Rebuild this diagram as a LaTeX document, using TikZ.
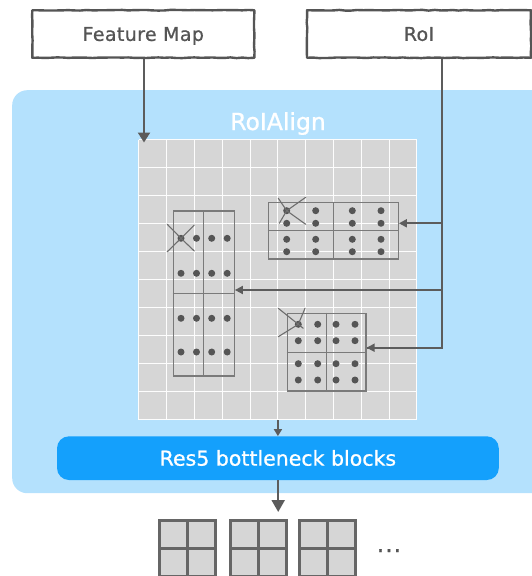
\documentclass[tikz,border=0pt]{standalone}
\usepackage{fontspec}
\setmainfont{DejaVu Sans}[FakeBold=0.9]
\usetikzlibrary{arrows.meta,decorations.pathmorphing,calc}
\definecolor{panelblue}{HTML}{B4E1FD}
\definecolor{resblue}{HTML}{14A0FC}
\definecolor{cellgray}{HTML}{D6D6D6}
\definecolor{ink}{HTML}{555555}
\definecolor{wire}{HTML}{5C5C5C}
\definecolor{frame}{HTML}{7A7A7A}
\definecolor{outgray}{HTML}{666666}

\begin{document}
\begin{tikzpicture}[x=1pt,y=-1pt,
  sketchbox/.style={draw=ink, line width=2.4pt, line join=round,
    decorate, decoration={random steps,segment length=6pt,amplitude=0.35pt},
    minimum height=47.5pt, inner sep=0pt, text height=13.8pt, text depth=0pt,
    text=ink, font=\fontsize{19}{19}\selectfont\addfontfeature{LetterSpace=2}},
  roibox/.style={draw=frame, line width=1.2pt, inner sep=0pt},
  divider/.style={draw=frame, line width=1.2pt},
  cross/.style={draw=frame!90!black, line width=1.1pt, line cap=round},
  gridline/.style={draw=white!96!cellgray, line width=0.9pt},
  flow/.style={draw=wire, line width=2.2pt},
  thin flow/.style={draw=wire, line width=1.8pt},
  outgrid/.style={draw=outgray, fill=cellgray, line width=3pt,
    minimum size=56pt, inner sep=0pt},
  outline/.style={draw=outgray, line width=3pt}
]
\useasboundingbox (0,0) rectangle (532,576);
\clip (0,0) rectangle (532,576);

% inputs
\pgfmathsetseed{7}
\node[sketchbox, minimum width=222pt] (fm) at (143.3,34) {Feature Map};
\node[sketchbox, minimum width=224pt] (roi) at (419,34) {RoI};

% RoIAlign stage
\node[fill=panelblue, rounded corners=15pt, minimum width=560pt,
  minimum height=403pt, anchor=north west, inner sep=0pt] (panel) at (12,90) {};
\node[text=white, anchor=base, font=\fontsize{23.5}{23.5}\selectfont] (title)
  at (278,130) {RoIAlign};

% feature map grid
\node[fill=cellgray, minimum width=278pt, minimum height=280pt, inner sep=0pt]
  (grid) at (278,280) {};
\foreach \i in {0,...,10} {
  \draw[gridline] ($(grid.north west)+(\i*27.8,0)$) -- ($(grid.south west)+(\i*27.8,0)$);
  \draw[gridline] ($(grid.north west)+(0,\i*28)$) -- ($(grid.north east)+(0,\i*28)$);
}

% region boxes with their bins
\node[roibox, minimum width=130pt, minimum height=56.7pt] (b1) at (333.3,230.65) {};
\node[roibox, minimum width=61pt, minimum height=165pt] (b2) at (203.8,293.5) {};
\node[roibox, minimum width=78.7pt, minimum height=77.7pt] (b3) at (326.65,352.15) {};
\foreach \b in {b1,b2,b3} {
  \draw[divider] (\b.north) -- (\b.south);
  \draw[divider] (\b.west) -- (\b.east);
}

% sampling points
\foreach \x in {286.7,315.7,352.3,381}
  \foreach \y in {210.7,223.3,239.3,251.7}
    \fill[ink] (\x,\y) circle (3.5pt);
\foreach \x in {181,196.5,211.7,227.2}
  \foreach \y in {238.3,273.3,318.3,352}
    \fill[ink] (\x,\y) circle (3.5pt);
\foreach \x in {298.3,317.7,336,355}
  \foreach \y in {324.3,340.7,363.7,380}
    \fill[ink] (\x,\y) circle (3.5pt);

% struck-out corner samples
\draw[cross] (278.3,198.3) -- (286.7,210.7) -- (305.7,224.3)
             (279.3,223.3) -- (286.7,210.7) -- (305.7,197.3);
\draw[cross] (167.3,224.3) -- (181,238.3) -- (194.3,251)
             (167.3,251.7) -- (181,238.3) -- (194.3,225);
\draw[cross] (278.3,308.3) -- (298.3,324.3) -- (303.3,328.3)
             (278.3,336.7) -- (298.3,324.3) -- (305,308.3);

% bottleneck
\node[fill=resblue, rounded corners=12pt, minimum width=441.8pt,
  minimum height=43.7pt, inner sep=0pt, text=white, text height=15pt, text depth=0pt,
  font=\fontsize{20.5}{20.5}\selectfont] (res5) at (277.9,458.15) {Res5 bottleneck blocks};

% pooled outputs
\node[outgrid] (o1) at (187.8,548.8) {};
\node[outgrid] (o2) at (258.7,548.8) {};
\node[outgrid] (o3) at (327.8,548.8) {};
\foreach \o in {o1,o2,o3} {
  \draw[outline] (\o.north) -- (\o.south);
  \draw[outline] (\o.west) -- (\o.east);
}
\node[text=ink, anchor=base, font=\fontsize{23}{23}\selectfont\addfontfeature{LetterSpace=5}]
  (more) at (389,552) {...};

% connectors
\coordinate (j1) at (441.7,223.3);
\coordinate (j2) at (441.7,290);
\coordinate (j3) at (441.7,347.7);
\coordinate (fmtip) at (144,142.5);
\coordinate (restip) at (278.2,512);

\draw[flow, -{Triangle[length=10pt,width=12pt]}] (fm.south -| fmtip) -- (fmtip);
\draw[thin flow, line join=miter] (roi.south -| j3) -- (j3) -- (j3 -| b3.east);
\draw[thin flow, -{Triangle[length=8pt,width=8pt]}] (j3) -- (j3 -| b3.east);
\draw[thin flow, -{Triangle[length=8pt,width=8pt]}] (j2) -- (j2 -| b2.east);
\draw[thin flow, -{Triangle[length=8pt,width=8pt]}] (j1) -- (j1 -| b1.east);
\draw[thin flow, -{Triangle[length=7pt,width=8pt]}] (grid.south) -- (res5.north);
\draw[flow, -{Triangle[length=12pt,width=13pt]}] (res5.south -| restip) -- (restip);
\end{tikzpicture}
\end{document}
